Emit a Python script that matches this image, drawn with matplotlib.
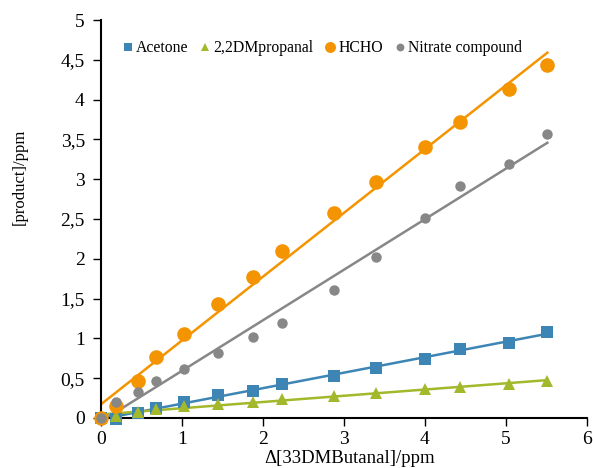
import numpy as np
import matplotlib.pyplot as plt

plt.rcParams['font.family'] = ['Liberation Serif', 'DejaVu Serif']

# consumed 33DMButanal (ppm)
x = [0, 0.185, 0.457, 0.68, 1.025, 1.44, 1.875, 2.235, 2.876, 3.395, 4.0, 4.43, 5.04, 5.51]

acetone = [0, -0.016, 0.067, 0.13, 0.205, 0.289, 0.335, 0.427, 0.527, 0.632, 0.745, 0.867, 0.946, 1.084]
dmpropanal = [0, 0.03, 0.075, 0.11, 0.15, 0.18, 0.205, 0.235, 0.28, 0.31, 0.36, 0.385, 0.425, 0.46]
hcho = [0, 0.155, 0.47, 0.77, 1.05, 1.43, 1.77, 2.1, 2.57, 2.97, 3.4, 3.72, 4.14, 4.43]
nitrate = [0, 0.2, 0.33, 0.47, 0.61, 0.82, 1.02, 1.19, 1.61, 2.02, 2.51, 2.91, 3.19, 3.57]

series = [
    ('Acetone', acetone, '#3D85B4', 's', 8.5),
    ('2,2DMpropanal', dmpropanal, '#A3B82A', '^', 8.5),
    ('HCHO', hcho, '#F39400', 'o', 10.5),
    ('Nitrate compound', nitrate, '#878787', 'o', 7.5),
]

fig = plt.figure(figsize=(5.93, 4.68), dpi=100)
ax = fig.add_axes([0.170, 0.107, 0.820, 0.850])

xa = np.array(x)
for name, y, col, mk, ms in series:
    # linear trend line (Excel style)
    k, b = np.polyfit(xa, np.array(y), 1)
    xl = np.array([0, xa.max()])
    ax.plot(xl, k * xl + b, color=col, lw=1.8, zorder=2)
    ax.plot(xa, y, linestyle='none', marker=mk, ms=ms, color=col,
            markeredgewidth=0, label=name, zorder=3, clip_on=False)

ax.set_xlim(0, 6)
ax.set_ylim(0, 5)
ax.set_xticks(range(0, 7))
ax.set_yticks(np.arange(0, 5.01, 0.5))
ax.set_yticklabels([('%g' % v).replace('.', ',') for v in np.arange(0, 5.01, 0.5)])
ax.tick_params(labelsize=14, direction='out', length=5.5, width=1, colors='black')
ax.tick_params(axis='y', pad=6)
ax.tick_params(axis='x', pad=4)
for s in ['top', 'right']:
    ax.spines[s].set_visible(False)
for s in ['left', 'bottom']:
    ax.spines[s].set_linewidth(1.5)

ax.set_xlabel('Δ[33DMButanal]/ppm', fontsize=13.5)
ax.set_ylabel('[product]/ppm', fontsize=12)
ax.xaxis.set_label_coords(0.512, -0.080)
ax.yaxis.set_label_coords(-0.150, 0.606)

ax.legend(loc='upper left', bbox_to_anchor=(0.01, 0.985), ncol=4, frameon=False,
          fontsize=11.3, handletextpad=0.0, columnspacing=0.6, markerscale=0.75,
          handlelength=1.0)

fig.savefig('out.png', dpi=100)
